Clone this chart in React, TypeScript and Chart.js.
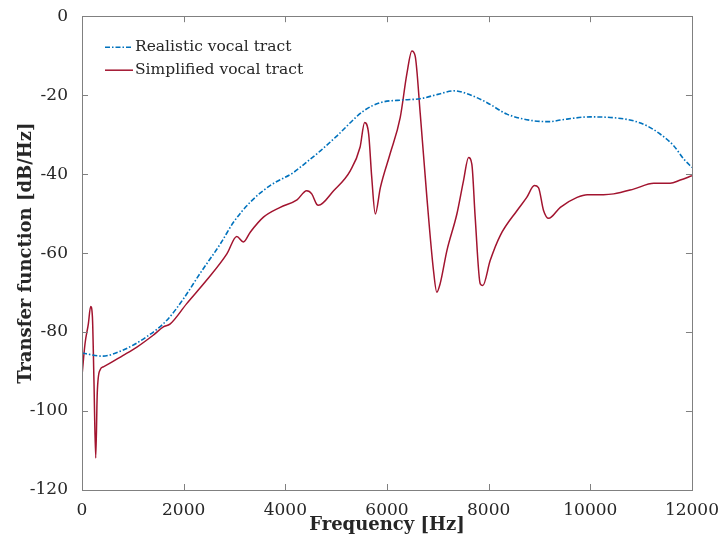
import React, { useEffect, useRef } from "react";
import { Chart, registerables } from "chart.js";

Chart.register(...registerables);

const realisticFreq = [0, 400, 800, 1270, 1670, 2000, 2320, 2720, 2980, 3310, 3700, 4160, 4290, 4690, 5000, 5540, 5870, 6330, 6650, 7000, 7310, 7570, 7970, 8360, 8890, 9210, 9410, 10000, 10530, 10850, 11120, 11380, 11640, 11840, 12000];
const realisticDb = [-85.3, -86.1, -84.6, -81.2, -77, -71.5, -65.2, -57.7, -52.2, -47.1, -42.9, -39.6, -38.3, -34.1, -30.5, -24, -21.9, -21.2, -20.9, -19.8, -18.9, -19.6, -21.9, -24.8, -26.5, -26.7, -26.3, -25.5, -25.8, -26.5, -27.8, -29.9, -32.8, -36.2, -38.3];

const simplifiedFreq = [0, 60, 125, 170, 205, 235, 270, 300, 355, 420, 810, 1080, 1400, 1600, 1730, 2060, 2450, 2850, 3045, 3175, 3310, 3570, 3900, 4230, 4420, 4520, 4620, 4650, 4950, 5280, 5470, 5560, 5640, 5700, 5770, 5870, 6060, 6260, 6390, 6490, 6555, 6655, 6785, 6915, 6980, 7045, 7180, 7375, 7505, 7605, 7670, 7735, 7835, 7885, 8030, 8230, 8560, 8750, 8900, 8980, 9080, 9180, 9410, 9740, 9940, 10260, 10460, 10850, 11250, 11570, 11770, 12000];
const simplifiedDb = [-91, -82.9, -77.9, -73.5, -76.2, -92.2, -111.9, -95.5, -89.6, -88.8, -85.9, -83.8, -80.8, -78.7, -78.0, -72.8, -66.9, -60.2, -55.8, -57.2, -54.7, -50.9, -48.4, -46.5, -44.2, -45, -47.7, -47.9, -44.2, -39.1, -33.2, -26.9, -29.9, -40.8, -50.1, -43.4, -34.9, -25.7, -14.7, -8.8, -10.1, -24.8, -45.9, -64.4, -69.9, -67.8, -59.3, -50.1, -41.7, -35.8, -37.5, -50.9, -67.8, -68.2, -61.9, -55.5, -49.2, -45.9, -42.9, -43.4, -49.2, -51.2, -48.4, -45.9, -45.2, -45.2, -45.0, -43.8, -42.3, -42.3, -41.5, -40.4];

const seriesLabels = ["Realistic vocal tract", "Simplified vocal tract"];
const xTicks = [0, 2000, 4000, 6000, 8000, 10000, 12000];
const yTicks = [0, -20, -40, -60, -80, -100, -120];

const FONT = "'DejaVu Serif', serif";
const TEXT = "#262626";
const AXIS = "#808080";

const frameAndLegend = {
  id: "frameAndLegend",
  afterDatasetsDraw(chart: any) {
    const { ctx, chartArea, scales } = chart;
    const { left, right, top, bottom } = chartArea;
    ctx.save();
    ctx.strokeStyle = AXIS;
    ctx.lineWidth = 1;
    ctx.setLineDash([]);
    ctx.strokeRect(Math.round(left) + 0.5, Math.round(top) + 0.5, Math.round(right - left), Math.round(bottom - top));
    const tl = 6;
    ctx.beginPath();
    for (const v of xTicks) {
      const px = Math.round(scales.x.getPixelForValue(v)) + 0.5;
      ctx.moveTo(px, bottom);
      ctx.lineTo(px, bottom - tl);
      ctx.moveTo(px, top);
      ctx.lineTo(px, top + tl);
    }
    for (const v of yTicks) {
      const py = Math.round(scales.y.getPixelForValue(v)) + 0.5;
      ctx.moveTo(left, py);
      ctx.lineTo(left + tl, py);
      ctx.moveTo(right, py);
      ctx.lineTo(right - tl, py);
    }
    ctx.stroke();

    // legend
    const lx0 = left + 23;
    const lx1 = left + 51;
    let ly = top + 31;
    ctx.font = `15.5px ${FONT}`;
    ctx.textBaseline = "middle";
    ctx.textAlign = "left";
    chart.data.datasets.forEach((ds: any) => {
      ctx.beginPath();
      ctx.strokeStyle = ds.borderColor;
      ctx.lineWidth = ds.borderWidth;
      ctx.setLineDash(ds.borderDash || []);
      ctx.moveTo(lx0, ly);
      ctx.lineTo(lx1, ly);
      ctx.stroke();
      ctx.setLineDash([]);
      ctx.fillStyle = TEXT;
      ctx.fillText(ds.label, lx1 + 2, ly);
      ly += 23;
    });
    ctx.restore();
  },
};

export default function App() {
  const ref = useRef<HTMLCanvasElement | null>(null);
  useEffect(() => {
    document.body.style.margin = "0";
    const canvas = ref.current;
    if (!canvas) return;
    const chart = new Chart(canvas, {
      type: "line",
      data: {
        datasets: [
          {
            label: seriesLabels[0],
            data: realisticFreq.map((f, i) => ({ x: f, y: realisticDb[i] })),
            borderColor: "#0072BD",
            borderWidth: 1.6,
            borderDash: [5, 2, 1.5, 2],
            pointRadius: 0,
            cubicInterpolationMode: "monotone",
            fill: false,
          },
          {
            label: seriesLabels[1],
            data: simplifiedFreq.map((f, i) => ({ x: f, y: simplifiedDb[i] })),
            borderColor: "#A2142F",
            borderWidth: 1.5,
            pointRadius: 0,
            cubicInterpolationMode: "monotone",
            fill: false,
          },
        ],
      },
      options: {
        animation: false,
        responsive: true,
        maintainAspectRatio: false,
        layout: { padding: { top: 15, right: 29, left: 0, bottom: 0 } },
        plugins: { legend: { display: false }, tooltip: { enabled: false } },
        scales: {
          x: {
            type: "linear",
            min: 0,
            max: 12000,
            afterBuildTicks: (s: any) => {
              s.ticks = xTicks.map((v) => ({ value: v }));
            },
            afterFit: (s: any) => {
              s.height = 50;
            },
            grid: { display: false },
            border: { display: false },
            ticks: {
              color: TEXT,
              font: { family: FONT, size: 17 },
              padding: 2,
              maxRotation: 0,
              callback: (v: any) => String(v),
            },
            title: {
              display: true,
              text: "Frequency [Hz]",
              color: TEXT,
              font: { family: FONT, size: 18, weight: "bold" },
              padding: { top: 0, bottom: 4 },
            },
          },
          y: {
            type: "linear",
            min: -120,
            max: 0,
            afterBuildTicks: (s: any) => {
              s.ticks = yTicks.map((v) => ({ value: v }));
            },
            afterFit: (s: any) => {
              s.width = 82;
            },
            grid: { display: false },
            border: { display: false },
            ticks: {
              color: TEXT,
              font: { family: FONT, size: 17 },
              padding: 6,
              callback: (v: any) => String(v),
            },
            title: {
              display: true,
              text: "Transfer function [dB/Hz]",
              color: TEXT,
              font: { family: FONT, size: 18, weight: "bold" },
              padding: { top: 16, bottom: 0 },
            },
          },
        },
      },
      plugins: [frameAndLegend],
    });
    return () => chart.destroy();
  }, []);
  return (
    <div style={{ width: 721, height: 540, position: "relative" }}>
      <canvas ref={ref} />
    </div>
  );
}
